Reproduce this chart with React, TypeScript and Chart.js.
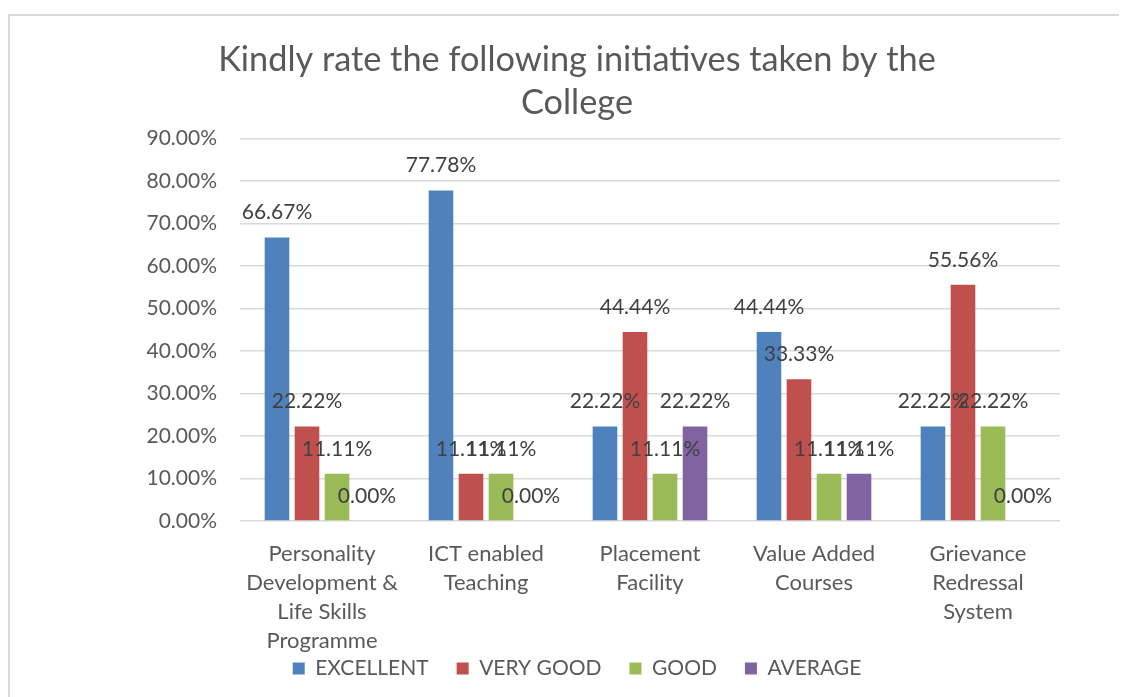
import React, { useEffect, useRef } from "react";
import { Chart, registerables } from "chart.js";

Chart.register(...registerables);

const titleLines = ["Kindly rate the following initiatives taken by the", "College"];
const categories = [
  ["Personality", "Development &", "Life Skills", "Programme"],
  ["ICT enabled", "Teaching"],
  ["Placement", "Facility"],
  ["Value Added", "Courses"],
  ["Grievance", "Redressal", "System"],
];
const seriesNames = ["EXCELLENT", "VERY GOOD", "GOOD", "AVERAGE"];
const excellent = [66.67, 77.78, 22.22, 44.44, 22.22];
const veryGood = [22.22, 11.11, 44.44, 33.33, 55.56];
const good = [11.11, 11.11, 11.11, 11.11, 22.22];
const average = [0.0, 0.0, 22.22, 11.11, 0.0];
const seriesColors = ["#4F81BD", "#C0504D", "#9BBB59", "#8064A2"];
const yMin = 0;
const yMax = 90;
const yStep = 10;

const FONT = "Lato, 'Noto Sans', sans-serif";

const dataLabelPlugin = {
  id: "dataLabels",
  afterDatasetsDraw(chart: any) {
    const ctx = chart.ctx;
    ctx.save();
    ctx.font = `21px ${FONT}`;
    ctx.fillStyle = "#404040";
    ctx.textAlign = "center";
    ctx.textBaseline = "middle";
    chart.data.datasets.forEach((ds: any, i: number) => {
      const meta = chart.getDatasetMeta(i);
      meta.data.forEach((bar: any, j: number) => {
        const v = ds.data[j] as number;
        ctx.fillText(v.toFixed(2) + "%", bar.x, bar.y - 25);
      });
    });
    ctx.restore();
  },
};

export default function App() {
  const ref = useRef<HTMLCanvasElement | null>(null);
  useEffect(() => {
    if (!ref.current) return;
    const seriesData = [excellent, veryGood, good, average];
    const chart = new Chart(ref.current, {
      type: "bar",
      data: {
        labels: categories,
        datasets: seriesNames.map((name, i) => ({
          label: name,
          data: seriesData[i],
          backgroundColor: seriesColors[i],
          borderWidth: 0,
          categoryPercentage: 0.732,
          barPercentage: 0.82,
          yAxisID: "y",
        })),
      },
      options: {
        responsive: false,
        animation: false,
        devicePixelRatio: 1,
        layout: { padding: 0 },
        plugins: {
          tooltip: { enabled: false },
          title: {
            display: true,
            text: titleLines,
            color: "#595959",
            font: { family: FONT, size: 34.3, weight: "normal", lineHeight: 1.26 },
            padding: { top: 22.5, bottom: 13.5 },
          },
          legend: {
            position: "bottom",
            labels: {
              boxWidth: 12,
              boxHeight: 12,
              padding: 28,
              color: "#595959",
              font: { family: FONT, size: 21 },
            },
          },
        },
        scales: {
          x: {
            grid: { display: false, drawTicks: false },
            border: { display: false },
            ticks: {
              color: "#595959",
              font: { family: FONT, size: 22, lineHeight: 1.32 },
              padding: 18.5,
              maxRotation: 0,
              autoSkip: false,
            },
            afterFit(scale: any) {
              scale.height = 109;
              scale._computeLabelArea = () => undefined;
            },
          },
          y: {
            position: "left",
            min: yMin,
            max: yMax,
            grid: { color: "#d9d9d9", lineWidth: 1.5, drawTicks: false },
            border: { display: false },
            ticks: {
              stepSize: yStep,
              color: "#595959",
              font: { family: FONT, size: 21 },
              padding: 23,
              callback: (v: any) => Number(v).toFixed(2) + "%",
            },
            afterFit(scale: any) {
              scale.width = 230;
            },
          },
          y2: {
            position: "right",
            display: true,
            grid: { display: false, drawTicks: false },
            border: { display: false },
            ticks: { display: false },
            afterFit(scale: any) {
              scale.width = 84;
            },
          },
        },
      },
      plugins: [dataLabelPlugin],
    } as any);
    return () => chart.destroy();
  }, []);

  return (
    <div style={{ width: 1119, height: 689, overflow: "hidden", position: "relative", background: "#fff" }}>
      <div
        style={{
          position: "absolute",
          left: 0,
          top: 6,
          width: 1134,
          height: 720,
          border: "2px solid #d9d9d9",
          background: "#fff",
        }}
      >
        <canvas ref={ref} width={1134} height={673} style={{ display: "block" }} />
      </div>
    </div>
  );
}
